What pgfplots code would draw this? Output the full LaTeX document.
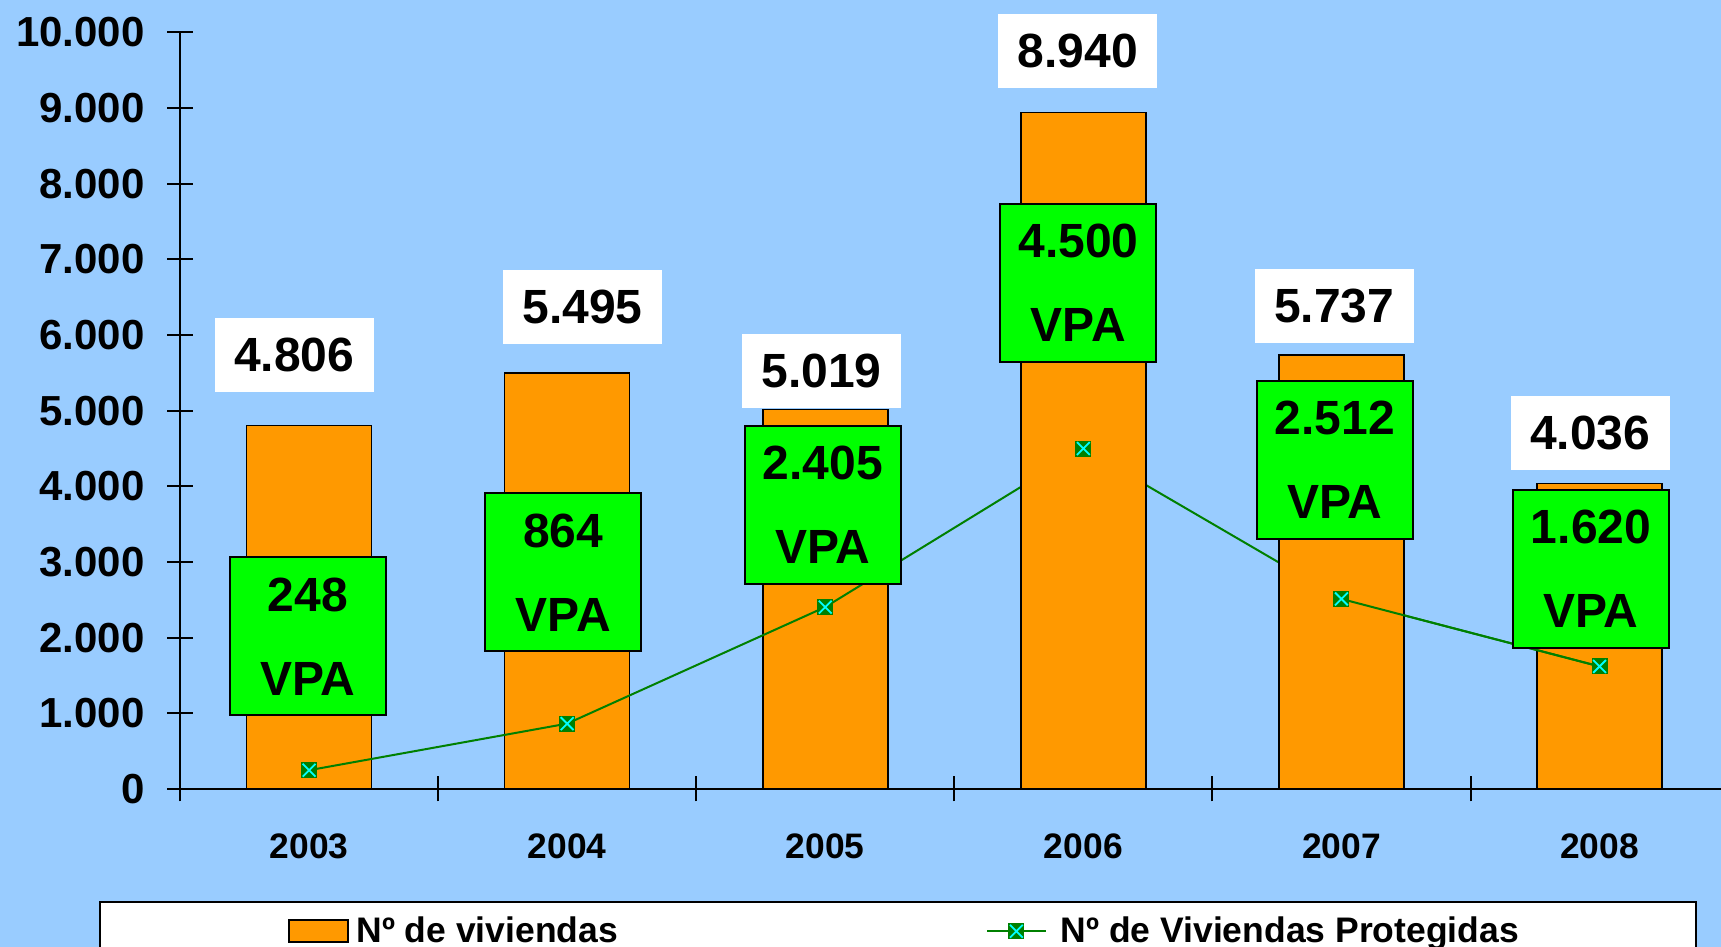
\documentclass[border=0pt]{standalone}
\usepackage{pgfplots}
\pgfplotsset{compat=1.18}
\usepackage{fontspec}
\setmainfont{Liberation Sans}
\definecolor{bgblue}{RGB}{153,204,255}
\definecolor{barorange}{RGB}{255,153,0}
\definecolor{vpagreen}{RGB}{0,255,0}
\definecolor{lgreen}{RGB}{0,128,0}
\definecolor{xcyan}{RGB}{0,255,255}
\pgfdeclareplotmark{sqx}{%
  \pgfpathrectangle{\pgfpoint{-\pgfplotmarksize}{-\pgfplotmarksize}}{\pgfpoint{2\pgfplotmarksize}{2\pgfplotmarksize}}%
  \pgfsetfillcolor{lgreen}\pgfusepathqfill
  \pgfsetstrokecolor{xcyan}\pgfsetlinewidth{0.9pt}%
  \pgfpathmoveto{\pgfpoint{-0.8\pgfplotmarksize}{-0.8\pgfplotmarksize}}%
  \pgfpathlineto{\pgfpoint{0.8\pgfplotmarksize}{0.8\pgfplotmarksize}}%
  \pgfpathmoveto{\pgfpoint{-0.8\pgfplotmarksize}{0.8\pgfplotmarksize}}%
  \pgfpathlineto{\pgfpoint{0.8\pgfplotmarksize}{-0.8\pgfplotmarksize}}%
  \pgfusepathqstroke}
\pgfplotsset{
  lineleg/.style={legend image code/.code={\draw[mark repeat=2, mark phase=2, ##1] plot coordinates {(0pt,0pt) (14.65pt,0pt) (29.3pt,0pt)};}},
  barleg/.style={legend image code/.code={\draw[fill=barorange, draw=black, line width=0.8pt] (0pt,-5.5pt) rectangle (29.3pt,5.5pt);}}
}
\pgfplotstableread{
x y
0 4806
1 5495
2 5019
3 8940
4 5737
5 4036
}\viviendas
\pgfplotstableread{
x y
0 248
1 864
2 2405
3 4500
4 2512
5 1620
}\protegidas
\begin{document}
\begin{tikzpicture}
\path[use as bounding box, fill=bgblue] (0,0) rectangle (860.5pt,473.5pt);
\draw[fill=white, line width=1pt] (50pt,-4pt) rectangle (848pt,22.5pt);
\begin{axis}[
  at={(90pt,79pt)}, anchor=south west,
  scale only axis, width=774.3pt, height=378.25pt,
  xmin=-0.5, xmax=5.5, ymin=0, ymax=10000,
  axis x line=bottom, axis y line=left,
  axis line style={-, line width=1pt, black},
  clip=false,
  ytick={0,1000,...,10000},
  scaled y ticks=false,
  /pgf/number format/1000 sep={.},
  /pgf/number format/assume math mode=true,
  xtick={-0.5,0.5,...,5.5},
  xticklabel=\empty,
  extra x ticks={0,1,2,3,4,5},
  extra x tick labels={2003,2004,2005,2006,2007,2008},
  extra x tick style={major tick length=0pt},
  tick align=center,
  major tick length=12.5pt,
  tick style={black, line width=1pt},
  xticklabel style={font=\bfseries\fontsize{17.7}{20}\selectfont, inner sep=0pt, anchor=north, yshift=-22pt},
  yticklabel style={font=\bfseries\fontsize{21}{24}\selectfont, inner sep=0pt, anchor=east, xshift=-11.3pt},
  legend columns=2,
  legend style={draw=none, fill=none, at={(axis description cs:0.0697,-0.1880)}, anchor=west,
    inner xsep=0pt, inner ysep=0pt,
    font=\bfseries\fontsize{17.75}{20}\selectfont},
  legend cell align=left,
]
\addplot[ybar, bar width=0.484, bar shift=0pt, fill=barorange, draw=black, line width=0.8pt, barleg]
  table[x=x,y=y] {\viviendas};
\addlegendentry{\hspace*{2pt}Nº de viviendas\hspace*{182pt}}
\addplot[color=lgreen, line width=1pt, mark=sqx, mark size=4pt, lineleg]
  table[x=x,y=y] {\protegidas};
\addlegendentry{\hspace*{5pt}Nº de Viviendas Protegidas}
% bars of 2006 and 2007 drawn again over the line
\addplot[ybar, bar width=0.484, bar shift=0pt, fill=barorange, draw=black, line width=0.8pt, forget plot]
  coordinates {(3,8940) (4,5737)};
\addplot[color=lgreen, line width=1pt, forget plot] coordinates {(4,2512) (5,1620)};
\addplot[only marks, mark=sqx, mark size=4pt, forget plot] table[x=x,y=y] {\protegidas};
% value labels
\tikzset{wlab/.style={fill=white, minimum width=79.5pt, minimum height=37pt, inner sep=0pt,
    font=\bfseries\fontsize{24}{42}\selectfont},
  glab/.style={fill=vpagreen, draw=black, line width=1pt, minimum width=78pt, minimum height=79pt,
    inner sep=0pt, align=center, font=\bfseries\fontsize{24}{42}\selectfont}}
\node[wlab] at (axis cs:-0.058,5737) {4.806};
\node[wlab] at (axis cs:1.059,6367) {5.495};
\node[wlab] at (axis cs:1.986,5525) {5.019};
\node[wlab] at (axis cs:2.979,9758) {8.940};
\node[wlab] at (axis cs:3.972,6382) {5.737};
\node[wlab] at (axis cs:4.964,4706) {4.036};
\node[glab] at (axis cs:-0.005,2016) {248\\VPA};
\node[glab] at (axis cs:0.985,2863) {864\\VPA};
\node[glab] at (axis cs:1.990,3756) {2.405\\VPA};
\node[glab] at (axis cs:2.981,6686) {4.500\\VPA};
\node[glab] at (axis cs:3.974,4350) {2.512\\VPA};
\node[glab] at (axis cs:4.967,2908) {1.620\\VPA};
\end{axis}
\end{tikzpicture}
\end{document}
